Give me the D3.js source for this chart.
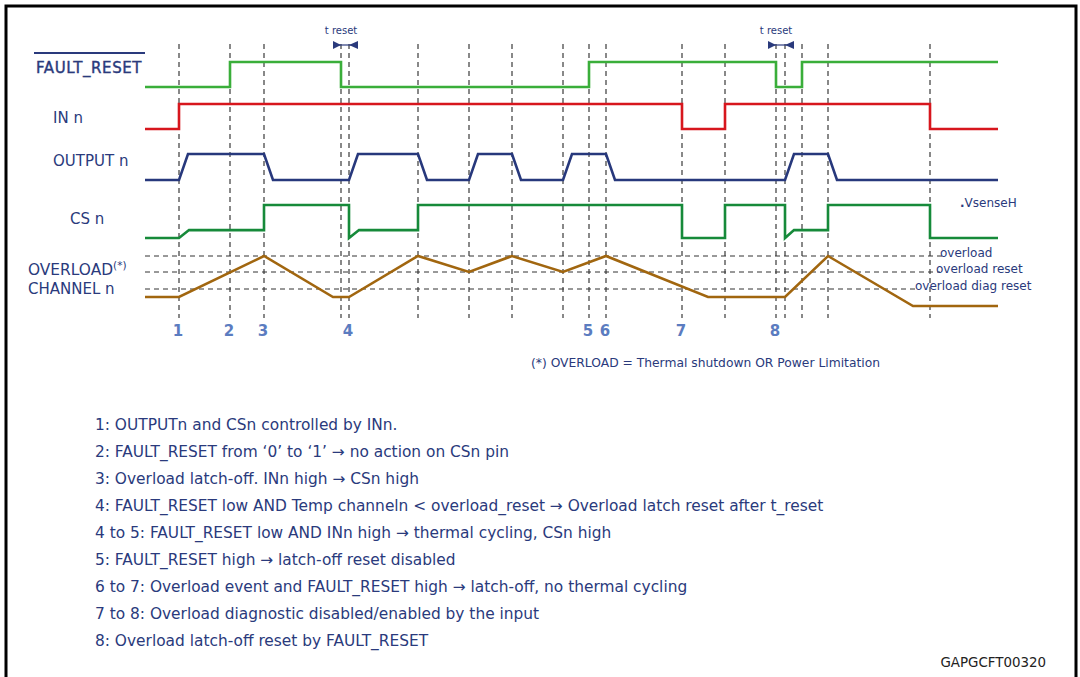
<!DOCTYPE html>
<html>
<head>
<meta charset="utf-8">
<script src="https://cdnjs.cloudflare.com/ajax/libs/d3/7.8.5/d3.min.js"></script>
<style>
  body { margin: 0; background: #fff; }
</style>
</head>
<body>
<div id="chart"></div>
<script>
// ---- data (time units along the diagram) ----
const endTime = 853;
const markers = [34, 85, 119, 196, 204, 273, 324, 367, 418, 444, 461, 537, 580, 631, 640, 657, 683, 785];
const markerNumbers = [["1", 34], ["2", 85], ["3", 119], ["4", 204], ["5", 444], ["6", 461], ["7", 537], ["8", 631]];
const tResets = [[196, 204], [631, 640]];

// step signals: [time, level]
const faultReset = [[0, 0], [85, 1], [196, 0], [444, 1], [631, 0], [657, 1], [853, 1]];
const inN = [[0, 0], [34, 1], [537, 0], [580, 1], [785, 0], [853, 0]];
// piecewise linear signals: [time, level]
const outputN = [[0, 0], [34, 0], [43, 1], [119, 1], [128, 0], [204, 0], [213, 1], [273, 1], [282, 0],
  [324, 0], [333, 1], [367, 1], [376, 0], [418, 0], [427, 1], [461, 1], [470, 0], [640, 0], [649, 1],
  [683, 1], [692, 0], [853, 0]];
const csN = [[0, 0], [34, 0], [44, 0.24], [119, 0.24], [119, 1], [204, 1], [204, 0], [214, 0.24],
  [273, 0.24], [273, 1], [537, 1], [537, 0], [580, 0], [580, 1], [640, 1], [640, 0], [649, 0.24],
  [683, 0.24], [683, 1], [785, 1], [785, 0], [853, 0]];
// temperature of channel (0..100)
const overloadTemp = [[0, 18], [34, 18], [119, 100], [188, 18], [204, 18], [273, 100], [324, 68],
  [367, 100], [418, 68], [461, 100], [563, 18], [640, 18], [683, 100], [768, 0], [853, 0]];
const thresholds = [["overload", 100], ["overload reset", 68], ["overload diag reset", 34]];

const notes = [
  "1: OUTPUTn and CSn controlled by INn.",
  "2: FAULT_RESET from \u20180\u2019 to \u20181\u2019 \u2192 no action on CSn pin",
  "3: Overload latch-off. INn high \u2192 CSn high",
  "4: FAULT_RESET low AND Temp channeln < overload_reset \u2192 Overload latch reset after t_reset",
  "4 to 5: FAULT_RESET low AND INn high \u2192 thermal cycling, CSn high",
  "5: FAULT_RESET high \u2192 latch-off reset disabled",
  "6 to 7: Overload event and FAULT_RESET high \u2192 latch-off, no thermal cycling",
  "7 to 8: Overload diagnostic disabled/enabled by the input",
  "8: Overload latch-off reset by FAULT_RESET"
];

// ---- layout ----
const width = 1080, height = 677;
const font = "'DejaVu Sans', Verdana, sans-serif";
const navy = "#2a3a7c";

const svg = d3.select("#chart")
  .append("svg")
  .attr("width", width)
  .attr("height", height)
  .attr("viewBox", `0 0 ${width} ${height}`);

// frame
svg.append("path")
  .attr("d", "M6,700 V6 H1076 V700")
  .attr("fill", "none")
  .attr("stroke", "#000")
  .attr("stroke-width", 3);

const x = d3.scaleLinear().domain([0, endTime]).range([145, 998]);

// one scale per row
const yFault = d3.scaleLinear().domain([0, 1]).range([87, 62]);
const yIn = d3.scaleLinear().domain([0, 1]).range([129, 104]);
const yOut = d3.scaleLinear().domain([0, 1]).range([180, 154]);
const yCs = d3.scaleLinear().domain([0, 1]).range([238, 205]);
const yTemp = d3.scaleLinear().domain([0, 100]).range([306, 256]);

// vertical dashed markers
svg.append("g")
  .selectAll("line")
  .data(markers)
  .join("line")
  .attr("x1", d => x(d)).attr("x2", d => x(d))
  .attr("y1", 44).attr("y2", 318)
  .attr("stroke", "#3a3a3a")
  .attr("stroke-width", 1.2)
  .attr("stroke-dasharray", "5,4");

// horizontal threshold lines
const labelX = [940, 936, 915];
svg.append("g")
  .selectAll("line")
  .data(thresholds)
  .join("line")
  .attr("x1", x(0))
  .attr("x2", (d, i) => labelX[i] + 4)
  .attr("y1", d => yTemp(d[1])).attr("y2", d => yTemp(d[1]))
  .attr("stroke", "#333")
  .attr("stroke-width", 1)
  .attr("stroke-dasharray", "5,4");

svg.append("g")
  .selectAll("text")
  .data(thresholds)
  .join("text")
  .attr("x", (d, i) => labelX[i])
  .attr("y", d => yTemp(d[1]) + 1)
  .attr("fill", navy)
  .style("font-family", font)
  .style("font-size", "12px")
  .text(d => d[0]);

// signals
const stepLine = y => d3.line().x(d => x(d[0])).y(d => y(d[1])).curve(d3.curveStepAfter);
const linLine = y => d3.line().x(d => x(d[0])).y(d => y(d[1]));

const signals = [
  { data: faultReset, gen: stepLine(yFault), color: "#3aae3a" },
  { data: inN, gen: stepLine(yIn), color: "#d7161d" },
  { data: outputN, gen: linLine(yOut), color: "#27387c" },
  { data: csN, gen: linLine(yCs), color: "#168a3a" },
  { data: overloadTemp, gen: linLine(yTemp), color: "#a1660f" }
];
svg.append("g")
  .selectAll("path")
  .data(signals)
  .join("path")
  .attr("d", d => d.gen(d.data))
  .attr("fill", "none")
  .attr("stroke", d => d.color)
  .attr("stroke-width", 2.6)
  .attr("stroke-linejoin", "miter");

// t reset arrows
const tr = svg.append("g");
tResets.forEach(([a, b]) => {
  const x0 = x(a), x1 = x(b);
  tr.append("line")
    .attr("x1", x0 - 8).attr("x2", x1 + 9)
    .attr("y1", 45).attr("y2", 45)
    .attr("stroke", navy).attr("stroke-width", 1.2);
  tr.append("path")
    .attr("d", `M${x0},45 L${x0 - 8},41 L${x0 - 8},49 Z`)
    .attr("fill", navy);
  tr.append("path")
    .attr("d", `M${x1},45 L${x1 + 9},41 L${x1 + 9},49 Z`)
    .attr("fill", navy);
  tr.append("text")
    .attr("x", x0)
    .attr("y", 34)
    .attr("text-anchor", "middle")
    .attr("fill", navy)
    .style("font-family", font)
    .style("font-size", "10px")
    .text("t reset");
});

// row labels
const rowLabels = [
  ["FAULT_RESET", 36, 73], ["IN n", 53, 123], ["OUTPUT n", 53, 166], ["CS n", 70, 224]
];
svg.append("g")
  .selectAll("text")
  .data(rowLabels)
  .join("text")
  .attr("x", d => d[1])
  .attr("y", d => d[2])
  .attr("fill", navy)
  .style("font-family", font)
  .style("font-size", "15px")
  .style("letter-spacing", (d, i) => i === 0 ? "0.6px" : null)
  .attr("stroke", (d, i) => i === 0 ? navy : null)
  .attr("stroke-width", 0.4)
  .text(d => d[0]);

// overline on FAULT_RESET
svg.append("line")
  .attr("x1", 34).attr("x2", 145)
  .attr("y1", 53).attr("y2", 53)
  .attr("stroke", navy).attr("stroke-width", 2);

const ovl = svg.append("text")
  .attr("x", 28).attr("y", 275)
  .attr("fill", navy)
  .style("font-family", font)
  .style("font-size", "15.4px");
ovl.append("tspan").text("OVERLOAD");
ovl.append("tspan").attr("dy", -6).style("font-size", "10.5px").text("(*)");
svg.append("text")
  .attr("x", 28).attr("y", 294)
  .attr("fill", navy)
  .style("font-family", font)
  .style("font-size", "15px")
  .text("CHANNEL n");

// VsenseH
const vs = svg.append("text")
  .attr("x", 960).attr("y", 207)
  .attr("fill", navy)
  .style("font-family", font)
  .style("font-size", "12px");
vs.append("tspan").style("font-weight", "bold").text(".");
vs.append("tspan").text("VsenseH");

// event numbers
svg.append("g")
  .selectAll("text")
  .data(markerNumbers)
  .join("text")
  .attr("x", d => x(d[1]) - 1)
  .attr("y", 336)
  .attr("text-anchor", "middle")
  .attr("fill", "#5b7cc0")
  .style("font-family", font)
  .style("font-size", "15px")
  .style("font-weight", "bold")
  .text(d => d[0]);

// footnote
svg.append("text")
  .attr("x", 531).attr("y", 367)
  .attr("fill", navy)
  .style("font-family", font)
  .style("font-size", "12.3px")
  .text("(*) OVERLOAD = Thermal shutdown OR Power Limitation");

// notes list
svg.append("g")
  .selectAll("text")
  .data(notes)
  .join("text")
  .attr("x", 95)
  .attr("y", (d, i) => 430 + i * 27)
  .attr("fill", navy)
  .style("font-family", font)
  .style("font-size", "15.4px")
  .text(d => d);

svg.append("text")
  .attr("x", 1046).attr("y", 667)
  .attr("text-anchor", "end")
  .attr("fill", "#222")
  .style("font-family", font)
  .style("font-size", "13.4px")
  .text("GAPGCFT00320");
</script>
</body>
</html>
